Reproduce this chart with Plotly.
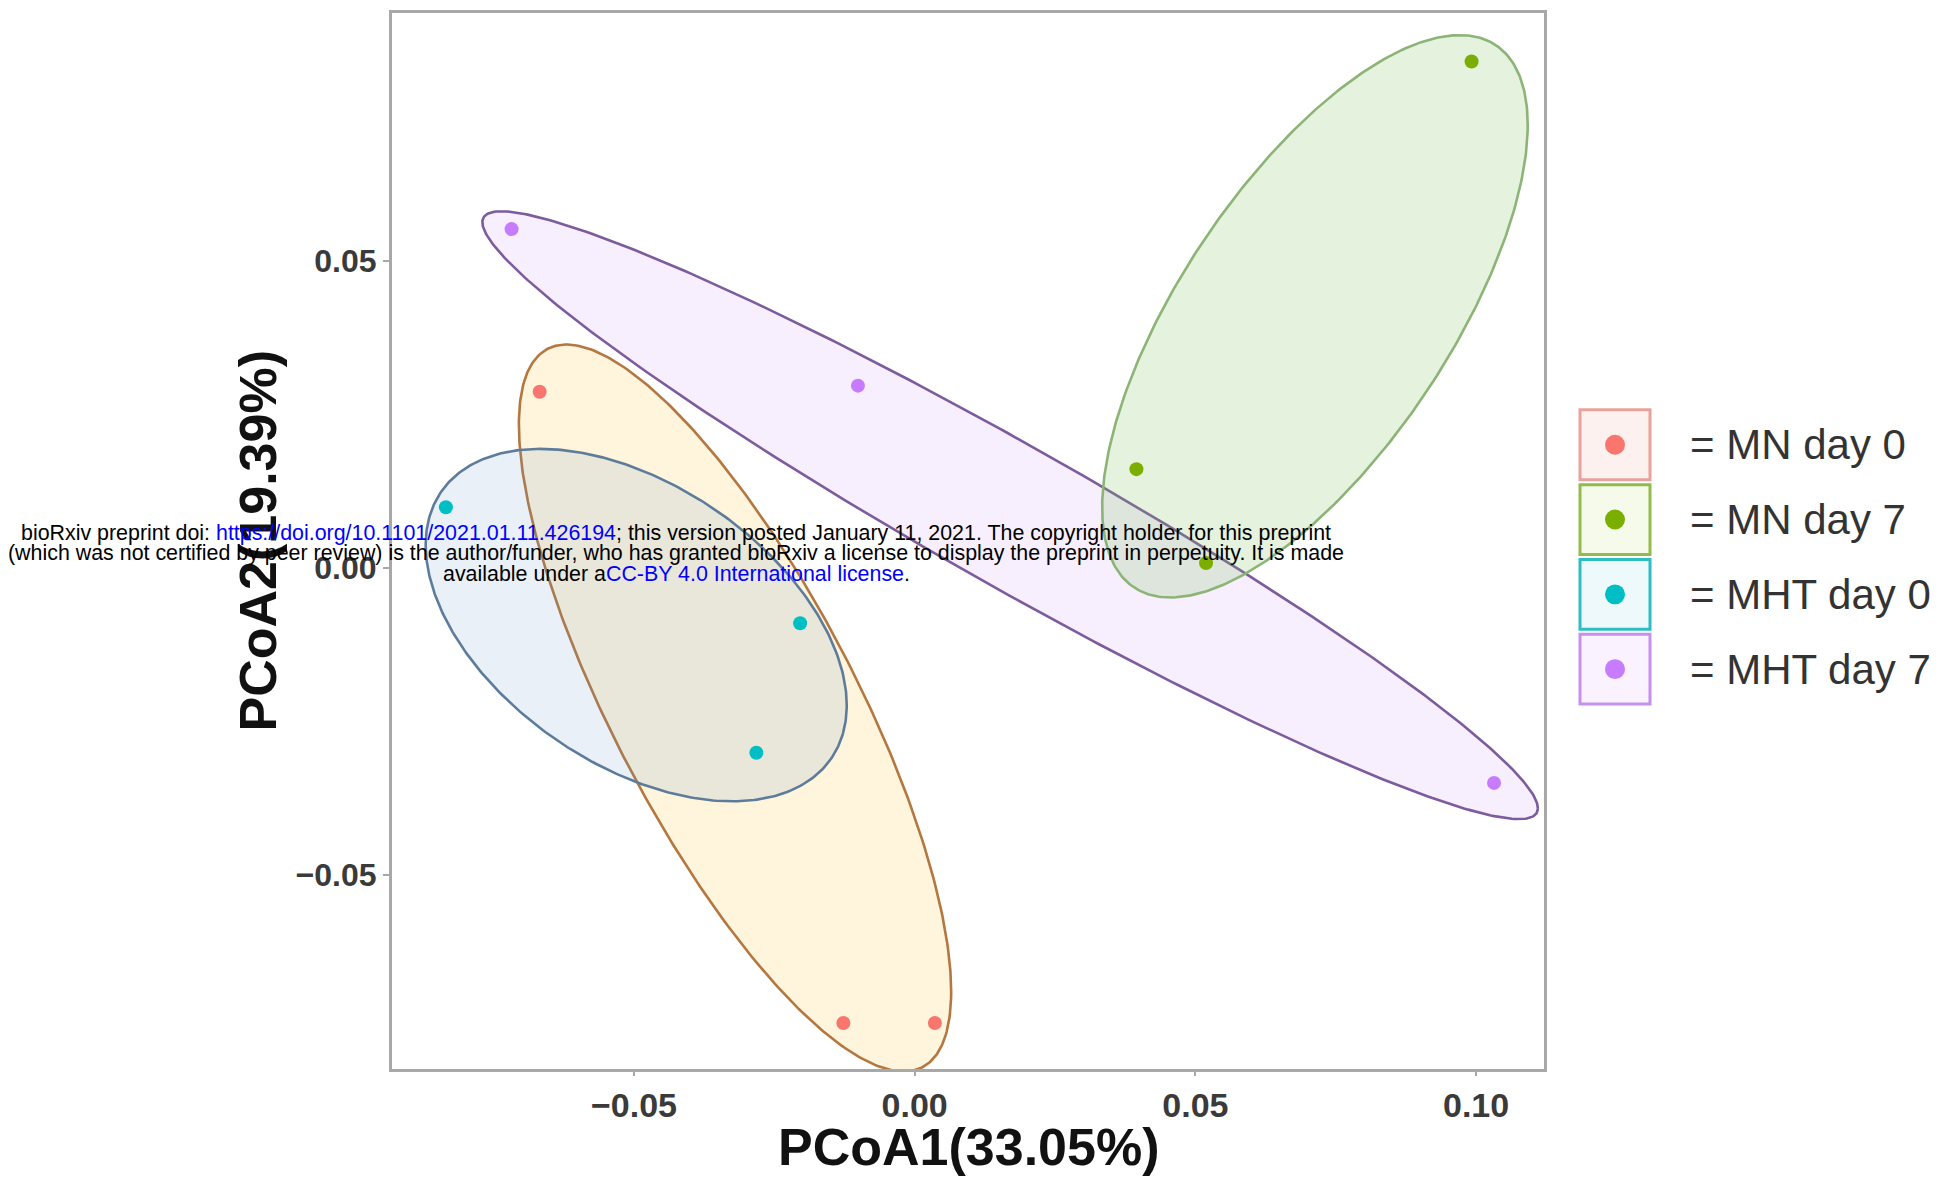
import numpy as np
import plotly.graph_objects as go

# ---------------- data ----------------
groups = ["MN day 0", "MN day 7", "MHT day 0", "MHT day 7"]
pc1 = {
    "MN day 0": [-0.0668, -0.0127, 0.0036],
    "MN day 7": [0.0992, 0.0395, 0.0519],
    "MHT day 0": [-0.0835, -0.0204, -0.0282],
    "MHT day 7": [-0.0718, -0.0101, 0.1032],
}
pc2 = {
    "MN day 0": [0.0287, -0.0741, -0.0741],
    "MN day 7": [0.0825, 0.0161, 0.0008],
    "MHT day 0": [0.0099, -0.0090, -0.0301],
    "MHT day 7": [0.0552, 0.0297, -0.0350],
}
# ellipse parameters per group (centre, half x-extent, half y-extent, correlation)
ell_cx = [-0.0320, 0.0713, -0.0496, 0.0170]
ell_cy = [-0.0228, 0.0410, -0.0093, 0.0086]
ell_rx = [0.0385, 0.0379, 0.0375, 0.0940]
ell_ry = [0.0592, 0.0458, 0.0287, 0.0495]
ell_rho = [-0.78, 0.68, -0.455, -0.964]

x_ticks = [-0.05, 0.00, 0.05, 0.10]
y_ticks = [-0.05, 0.00, 0.05]
x_title = "PCoA1(33.05%)"
y_title = "PCoA2(19.39%)"

# ---------------- styles ----------------
point_colors = ["#F8766D", "#7CAE00", "#00BFC4", "#C77CFF"]
ell_line = ["#B4773F", "#8DB477", "#5D7C9C", "#7D5C9E"]
ell_fill = ["rgba(255,206,80,0.20)", "rgba(120,190,90,0.20)",
            "rgba(100,150,200,0.14)", "rgba(190,130,240,0.13)"]
box_line = ["#E9A19B", "#93BB4C", "#2DBDC2", "#C690EE"]
box_fill = ["#FDF1F0", "#F5FAEB", "#EDF9FA", "#FAF2FF"]

W, H = 1954, 1187
L, R, T, B = 392, 1544, 10, 1069
PW, PH = R - L, B - T


def px(x):
    return (x - L) / PW


def py(y):
    return (B - y) / PH


fig = go.Figure()

order = [3, 1, 0, 2]
for i in order:
    t = np.linspace(0, 2 * np.pi, 400)
    ex = ell_cx[i] + ell_rx[i] * np.cos(t)
    ey = ell_cy[i] + ell_ry[i] * (ell_rho[i] * np.cos(t) + np.sqrt(1 - ell_rho[i] ** 2) * np.sin(t))
    fig.add_trace(go.Scatter(x=ex, y=ey, mode="lines", fill="toself",
                             fillcolor=ell_fill[i],
                             line=dict(color=ell_line[i], width=2.6),
                             hoverinfo="skip", showlegend=False))

for i, g in enumerate(groups):
    fig.add_trace(go.Scatter(x=pc1[g], y=pc2[g], mode="markers", name=g,
                             marker=dict(color=point_colors[i], size=14),
                             showlegend=False))

fig.update_xaxes(range=[-0.0931, 0.1121], tickvals=x_ticks, tickformat=".2f",
                 showgrid=False, zeroline=False, showline=True, mirror=True,
                 linecolor="#A8A8A8", linewidth=3, ticks="outside", ticklen=4,
                 tickwidth=2, tickcolor="#A8A8A8",
                 tickfont=dict(family="Liberation Sans", size=34, color="#3A3A3A", weight="bold"))
fig.update_yaxes(range=[-0.0816, 0.0904], tickvals=y_ticks, tickformat=".2f",
                 showgrid=False, zeroline=False, showline=True, mirror=True,
                 linecolor="#A8A8A8", linewidth=3, ticks="outside", ticklen=6,
                 tickwidth=2, tickcolor="#A8A8A8",
                 tickfont=dict(family="Liberation Sans", size=32, color="#3A3A3A", weight="bold"))

annotations = []
annotations.append(dict(x=0.5, y=py(1147), xref="paper", yref="paper", text=x_title,
                        showarrow=False, xanchor="center", yanchor="middle",
                        font=dict(family="Liberation Sans", size=52, color="#111111", weight="bold")))
annotations.append(dict(x=px(258), y=py(540), xref="paper", yref="paper", text=y_title,
                        showarrow=False, xanchor="center", yanchor="middle", textangle=-90,
                        font=dict(family="Liberation Sans", size=52, color="#111111", weight="bold")))

shapes = []
box_tops = [408, 483, 558, 633]
for i, g in enumerate(groups):
    top = box_tops[i]
    shapes.append(dict(type="rect", xref="paper", yref="paper",
                       x0=px(1580), x1=px(1650), y0=py(top + 70), y1=py(top),
                       line=dict(color=box_line[i], width=3), fillcolor=box_fill[i]))
    cy = top + 35
    shapes.append(dict(type="circle", xref="paper", yref="paper",
                       x0=px(1615 - 10), x1=px(1615 + 10), y0=py(cy + 10), y1=py(cy - 10),
                       line=dict(width=0), fillcolor=point_colors[i]))
    annotations.append(dict(x=px(1688), y=py(cy), xref="paper", yref="paper",
                            text="= " + g, showarrow=False, xanchor="left", yanchor="middle",
                            font=dict(family="Liberation Sans", size=42, color="#333333")))

# bioRxiv watermark
wm_font = dict(family="Liberation Sans", size=21.4, color="black")
wm_lines = [
    "bioRxiv preprint doi: <span style='color:blue'>https://doi.org/10.1101/2021.01.11.426194</span>; this version posted January 11, 2021. The copyright holder for this preprint",
    "(which was not certified by peer review) is the author/funder, who has granted bioRxiv a license to display the preprint in perpetuity. It is made",
    "available under a<span style='color:blue'>CC-BY 4.0 International license</span>.",
]
wm_y = [531, 552, 573]
for line, yy in zip(wm_lines, wm_y):
    annotations.append(dict(x=px(676), y=py(yy), xref="paper", yref="paper", text=line,
                            showarrow=False, xanchor="center", yanchor="middle", font=wm_font))

fig.update_layout(width=W, height=H, margin=dict(l=L, r=W - R, t=T, b=H - B),
                  plot_bgcolor="white", paper_bgcolor="white",
                  shapes=shapes, annotations=annotations, showlegend=False)

fig.write_html("out.html", config={"displayModeBar": False},
               post_script="document.body.style.margin='0';")
